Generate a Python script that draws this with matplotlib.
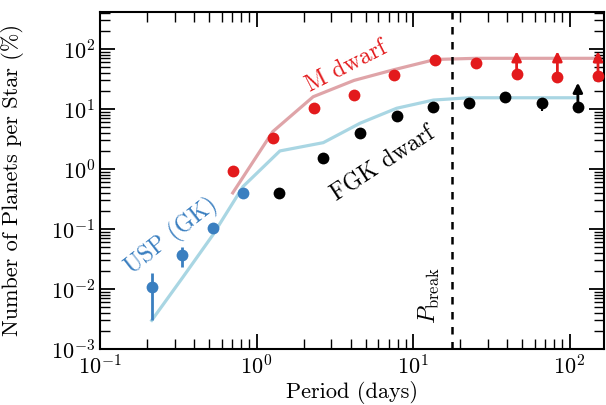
import matplotlib
matplotlib.use('Agg')
import matplotlib.pyplot as plt
import numpy as np

plt.rcParams['font.family'] = 'cmr10'
plt.rcParams['mathtext.fontset'] = 'cm'
plt.rcParams['axes.formatter.use_mathtext'] = True
plt.rcParams['axes.unicode_minus'] = False

# M dwarf occurrence (red points) and model (pink line)
p_m = [0.705, 1.27, 2.33, 4.2, 7.56, 13.9, 25.3, 45.9, 83.6, 152]
f_m = [0.93, 3.24, 10.3, 17.1, 36.9, 65.6, 57.6, 38.3, 34.6, 35.5]
p_m_model = [0.705, 1.27, 2.3, 4.2, 7.5, 13.9, 25.3, 45.9, 83.6, 166]
f_m_model = [0.40, 4.2, 16.0, 30.0, 45.0, 67.0, 70.0, 70.0, 70.0, 70.0]
lim_m_p = [45.9, 83.6, 152]
lim_m_lo = [38.3, 34.6, 35.5]
lim_m_hi = [92, 92, 92]

# FGK dwarf occurrence (black points)
p_fgk = [1.40, 2.67, 4.59, 7.86, 13.4, 22.7, 38.9, 66.7]
f_fgk = [0.394, 1.55, 4.03, 7.64, 10.7, 12.8, 16.0, 12.4]
f_fgk_lo = [0, 0, 0, 0, 0, 0, 0, 3.1]
f_fgk_hi = [0, 0, 0, 0, 0, 0, 0, 0]
lim_fgk_p = [113]
lim_fgk_lo = [10.9]
lim_fgk_hi = [27.5]

# USP (GK) points
p_usp = [0.214, 0.335, 0.525, 0.817]
f_usp = [0.011, 0.0369, 0.103, 0.40]
f_usp_lo = [0.0080, 0.0139, 0, 0]
f_usp_hi = [0.0072, 0.0138, 0, 0]

# FGK model (light blue line)
p_fgk_model = [0.214, 0.34, 0.525, 0.82, 1.41, 2.67, 4.59, 7.86, 13.5, 22.7, 38.9, 66.7, 113]
f_fgk_model = [0.003, 0.016, 0.079, 0.51, 2.0, 2.75, 5.8, 10.3, 14.1, 15.4, 15.4, 15.4, 15.4]

p_break = 17.7

red = '#e31a1c'
blue = '#3a7fc0'

fig = plt.figure(figsize=(6.06, 4.05), dpi=100)
ax = fig.add_axes([100 / 606, 1 - 349 / 405, 504 / 606, 337 / 405])

ax.plot(p_m_model, f_m_model, color='#dc9a9f', lw=2.3, alpha=0.9, zorder=1)
ax.plot(p_fgk_model, f_fgk_model, color='#a9d6e3', lw=2.3, zorder=1)

ax.plot(p_m, f_m, 'o', color=red, ms=8.5, mec='none', zorder=3)
# lower limits drawn as upward arrows
for x, lo, hi in zip(lim_m_p, lim_m_lo, lim_m_hi):
    ax.annotate('', xy=(x, hi), xytext=(x, lo), zorder=3,
                arrowprops=dict(arrowstyle='-|>', color=red, lw=2,
                                mutation_scale=14, shrinkA=0, shrinkB=0))

ax.errorbar(p_fgk, f_fgk, yerr=[f_fgk_lo, f_fgk_hi], fmt='o', color='k',
            ms=8.5, mec='none', elinewidth=1.5, capsize=0, zorder=3)
ax.plot(lim_fgk_p, lim_fgk_lo, 'o', color='k', ms=8.5, mec='none', zorder=3)
for x, lo, hi in zip(lim_fgk_p, lim_fgk_lo, lim_fgk_hi):
    ax.annotate('', xy=(x, hi), xytext=(x, lo), zorder=3,
                arrowprops=dict(arrowstyle='-|>', color='k', lw=2,
                                mutation_scale=14, shrinkA=0, shrinkB=0))

ax.errorbar(p_usp, f_usp, yerr=[f_usp_lo, f_usp_hi], fmt='o', color=blue,
            ms=8.5, mec='none', elinewidth=2, capsize=0, zorder=3)

ax.axvline(p_break, color='k', ls='--', lw=1.8, dashes=(3, 3))

ax.set_xscale('log')
ax.set_yscale('log')
ax.set_xlim(0.1, 166)
ax.set_ylim(1e-3, 414)

ax.text(0.288, 0.076, 'USP (GK)', color=blue, fontsize=17, rotation=38,
        ha='center', va='center')
ax.text(3.73, 50, 'M dwarf', color=red, fontsize=17, rotation=27,
        ha='center', va='center')
ax.text(6.43, 1.21, 'FGK dwarf', color='k', fontsize=17, rotation=33,
        ha='center', va='center')
ax.text(12.8, 0.0079, r'$P_{\rm break}$', fontsize=17, rotation=90,
        ha='center', va='center')

ax.set_xlabel('Period (days)', fontsize=16, labelpad=2)
ax.set_ylabel('Number of Planets per Star (%)', fontsize=16)
ax.yaxis.set_label_coords(-0.15, 0.5)

ax.tick_params(which='both', direction='in', top=True, right=True, labelsize=16)
ax.tick_params(which='major', length=11, width=1.3)
ax.tick_params(which='minor', length=7.5, width=1.0)
for s in ax.spines.values():
    s.set_linewidth(1.5)

plt.savefig('out.png', dpi=100)
